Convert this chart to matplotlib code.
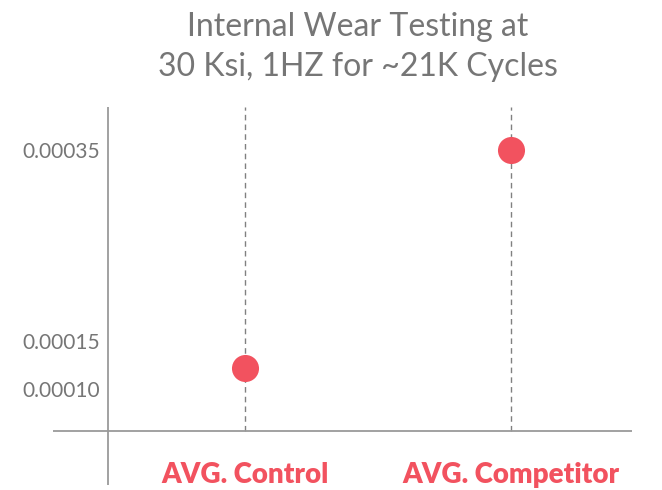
import matplotlib
matplotlib.use("Agg")
import matplotlib.pyplot as plt

categories = ["AVG. Control", "AVG. Competitor"]
values = [0.000124, 0.000352]
tick_values = [0.00010, 0.00015, 0.00035]
tick_labels = ["0.00010", "0.00015", "0.00035"]

RED = "#f2525f"
GRAY = "#767676"
LINE = "#9a9a9a"

plt.rcParams["font.family"] = ["Lato", "DejaVu Sans"]

fig = plt.figure(figsize=(6.62, 4.90), dpi=100)
W, H = 662, 490
ax = fig.add_axes([53 / W, 1 - 485 / H, (632 - 53) / W, (485 - 107) / H])

x = list(range(len(categories)))
x_min, x_max = -0.722, 1.455
y_min, y_max = 0.0000021, 0.000397
y_base = 0.0000583
x_axis = -0.515

ax.set_xlim(x_min, x_max)
ax.set_ylim(y_min, y_max)

for xi in x:
    ax.plot([xi, xi], [y_base, y_max], ls=(0, (4, 3)), color="#808080", lw=1, zorder=1)
ax.axhline(y_base, color=LINE, lw=1.3, zorder=1)
ax.axvline(x_axis, color=LINE, lw=1.3, zorder=1)

ax.scatter(x, values, s=380, color=RED, zorder=3, linewidths=0)

for s in ax.spines.values():
    s.set_visible(False)
ax.set_xticks([])
ax.set_yticks([])

for v, lab in zip(tick_values, tick_labels):
    ax.text(x_axis - 0.03, v, lab, ha="right", va="center", fontsize=15,
            color=GRAY)

for xi, lab in zip(x, categories):
    ax.text(xi, 0.0000125, lab, ha="center", va="center", fontsize=20,
            color=RED, fontweight="heavy", clip_on=False)

fig.text(358 / W, 1 - 47 / H, "Internal Wear Testing at\n30 Ksi, 1HZ for ~21K Cycles",
         ha="center", va="center", fontsize=23, color=GRAY,
         linespacing=1.4)

fig.savefig("out.png", dpi=100)
